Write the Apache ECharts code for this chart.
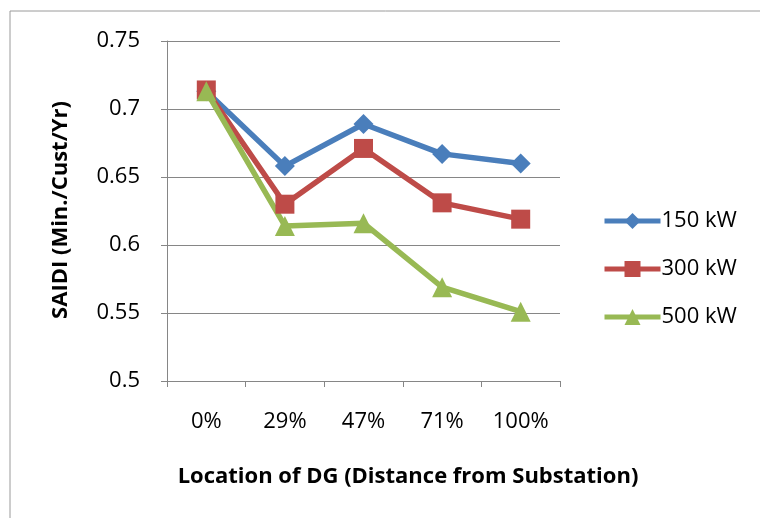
<!DOCTYPE html>
<html>
<head>
<meta charset="utf-8">
<script src="https://cdn.jsdelivr.net/npm/echarts@6/dist/echarts.min.js"></script>
<style>
html,body{margin:0;padding:0;background:#fff;}
#c{width:760px;height:518px;}
</style>
</head>
<body>
<div id="c"></div>
<script>
var categories = ['0%', '29%', '47%', '71%', '100%'];
var s150 = [0.713, 0.658, 0.689, 0.667, 0.660];
var s300 = [0.714, 0.630, 0.671, 0.631, 0.619];
var s500 = [0.713, 0.614, 0.616, 0.569, 0.551];
var seriesNames = ['150 kW', '300 kW', '500 kW'];
var yTitle = 'SAIDI (Min./Cust/Yr)';
var xTitle = 'Location of DG (Distance from Substation)';

var FONT = '"Open Sans", "Liberation Sans", sans-serif';
var GRAY = '#868686';

var chart = echarts.init(document.getElementById('c'), null, {renderer: 'canvas'});
function mk(name, data, color, symbol, size) {
  return {
    name: name, type: 'line', data: data,
    symbol: symbol, symbolSize: size,
    lineStyle: {color: color, width: 5.5},
    itemStyle: {color: color},
    emphasis: {disabled: true}
  };
}
chart.setOption({
  animation: false,
  backgroundColor: '#fff',
  textStyle: {fontFamily: FONT},
  grid: {left: 167, top: 41, right: 200, bottom: 137, containLabel: false},
  graphic: [
    {type: 'rect', shape: {x: 10, y: 11, width: 770, height: 530},
     style: {fill: 'none', stroke: '#9a9a9a', lineWidth: 1}, silent: true, z: -1},
    {type: 'text', x: 61, y: 210, rotation: Math.PI / 2,
     style: {text: yTitle, font: 'bold 22px ' + FONT, fill: '#000', align: 'center', verticalAlign: 'middle'}},
    {type: 'text', x: 408, y: 477,
     style: {text: xTitle, font: 'bold 22px ' + FONT, fill: '#000', align: 'center', verticalAlign: 'middle'}}
  ],
  legend: {
    orient: 'vertical', left: 597, top: 205,
    itemWidth: 56, itemHeight: 20, itemGap: 26,
    lineStyle: {width: 5},
    textStyle: {fontFamily: FONT, fontSize: 22, color: '#000', lineHeight: 20, padding: [0, 0, 0, -4]},
    data: seriesNames
  },
  xAxis: {
    type: 'category', data: categories, boundaryGap: true,
    axisLine: {lineStyle: {color: GRAY, width: 1}},
    axisTick: {show: true, length: 6, inside: false, interval: 0, lineStyle: {color: GRAY}},
    axisLabel: {fontFamily: FONT, fontSize: 22, color: '#000', margin: 30, interval: 0},
    splitLine: {show: false}
  },
  yAxis: {
    type: 'value', min: 0.5, max: 0.75, interval: 0.05,
    axisLine: {show: true, lineStyle: {color: GRAY, width: 1}},
    axisTick: {show: true, length: 6, inside: false, lineStyle: {color: GRAY}},
    axisLabel: {fontFamily: FONT, fontSize: 22, color: '#000', margin: 27},
    splitLine: {show: true, lineStyle: {color: GRAY, width: 1}}
  },
  series: [
    mk(seriesNames[0], s150, '#4A7EBB', 'diamond', 20),
    mk(seriesNames[1], s300, '#BE4B48', 'rect', 19),
    mk(seriesNames[2], s500, '#98B954', 'triangle', 20)
  ]
});
</script>
</body>
</html>
